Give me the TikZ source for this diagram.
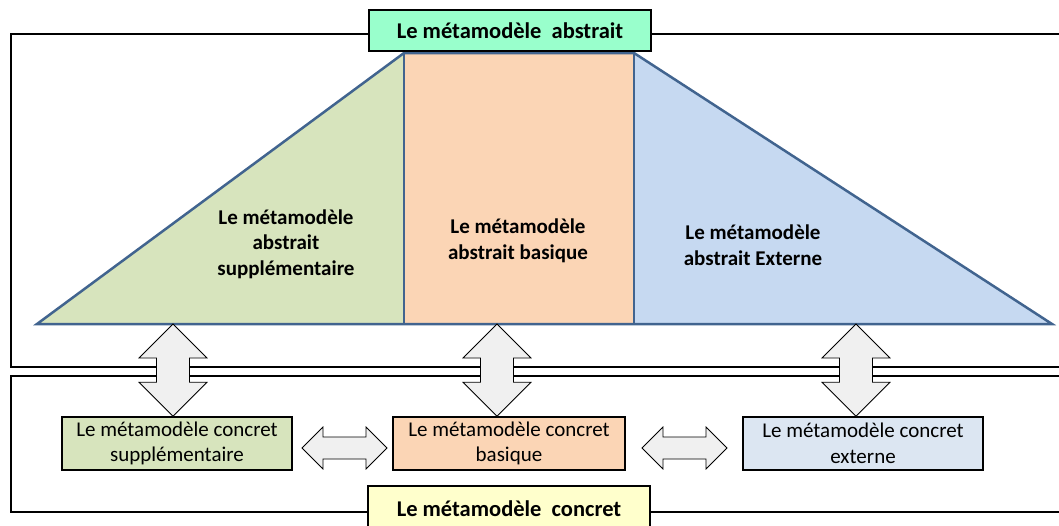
\documentclass[tikz,border=0pt]{standalone}
\usepackage{fontspec}
\setmainfont{Carlito}
\usetikzlibrary{calc}
\definecolor{gfill}{HTML}{D7E4BD}
\definecolor{ofill}{HTML}{FBD5B5}
\definecolor{bfill}{HTML}{C6D9F1}
\definecolor{bfilll}{HTML}{DCE6F2}
\definecolor{tline}{HTML}{41648F}
\definecolor{mint}{HTML}{99FFCC}
\definecolor{ylw}{HTML}{FFFFCC}
\definecolor{arrfill}{HTML}{F0F0F0}
\newcommand\vdarr[2]{%
  \draw[arr] let \p1=(#1), \p2=(#2) in
   (\x1,\y1) -- (\x1+34pt,\y1-34pt) -- (\x1+16.5pt,\y1-34pt) -- (\x1+16.5pt,\y2+34pt)
   -- (\x1+34pt,\y2+34pt) -- (\x1,\y2) -- (\x1-34pt,\y2+34pt) -- (\x1-16.5pt,\y2+34pt)
   -- (\x1-16.5pt,\y1-34pt) -- (\x1-34pt,\y1-34pt) -- cycle;}
\newcommand\hdarr[2]{%
  \draw[arr] let \p1=(#1), \p2=(#2) in
   (\x1,\y1) -- (\x1+21pt,\y1+21pt) -- (\x1+21pt,\y1+11pt) -- (\x2-21pt,\y1+11pt)
   -- (\x2-21pt,\y1+21pt) -- (\x2,\y1) -- (\x2-21pt,\y1-21pt) -- (\x2-21pt,\y1-11pt)
   -- (\x1+21pt,\y1-11pt) -- (\x1+21pt,\y1-21pt) -- cycle;}
\begin{document}
\begin{tikzpicture}[x=1pt,y=-1pt,
  frame/.style={draw=black,line width=1.5pt},
  arr/.style={draw=black,fill=arrfill,line width=0.8pt,line join=miter},
  lab/.style={draw=black,line width=1.5pt,minimum width=282pt,minimum height=41pt,
     font=\fontsize{22.5}{26}\selectfont\bfseries,inner sep=0pt},
  inner/.style={align=center,font=\fontsize{21}{25.5}\selectfont\bfseries},
  conc/.style={draw=black,line width=1.5pt,minimum height=53pt,align=center,
     font=\fontsize{21}{25.5}\selectfont,inner sep=0pt}]
\useasboundingbox (0,0) rectangle (1059,525);
\clip (0,0) rectangle (1059,525);
\fill[white] (0,0) rectangle (1059,525);
% frames
\draw[frame] (11,34) rectangle (1080,367);
\draw[frame] (11,376) rectangle (1080,512);
% trapezoid
\fill[gfill] (37,324) -- (404,53) -- (404,324) -- cycle;
\fill[ofill] (404,53) rectangle (634,324);
\fill[bfill] (634,53) -- (1052,324) -- (634,324) -- cycle;
\draw[tline,line width=2.5pt,line join=miter] (37,324) -- (404,53) -- (634,53) -- (1052,324) -- cycle;
\draw[tline,line width=2.5pt] (404,53) -- (404,324) (634,53) -- (634,324);
\node[inner] (ta) at (286,244) {Le métamodèle\\abstrait\\supplémentaire};
\node[inner] (tb) at (518,241) {Le métamodèle\\abstrait basique};
\node[inner] (tc) at (753,245) {Le métamodèle\\abstrait Externe};
% labels
\node[lab,fill=mint] (abs) at (510,30.5) {Le métamodèle\hspace{0.45em}abstrait};
\node[lab,fill=ylw,minimum width=282pt,minimum height=44pt] (con) at (509,508) {};
\node[font=\fontsize{22.5}{26}\selectfont\bfseries] (conT) at (509,509) {Le métamodèle\hspace{0.45em}concret};
% concrete boxes
\node[conc,fill=gfill,minimum width=230pt] (cg) at (177,443.5) {Le métamodèle concret\\supplémentaire};
\node[conc,fill=ofill,minimum width=232pt] (co) at (509,443.5) {Le métamodèle concret\\basique};
\node[conc,fill=bfilll,minimum width=240pt] (cb) at (863,443.5) {Le métamodèle concret\\externe};
% vertical arrows
\coordinate (t1) at (173,324);
\coordinate (t2) at (497,324);
\coordinate (t3) at (856,324);
\vdarr{t1}{t1 |- cg.north}
\vdarr{t2}{t2 |- co.north}
\vdarr{t3}{t3 |- cb.north}
% horizontal arrows
\coordinate (h1a) at (302,448);
\coordinate (h1b) at (387,448);
\coordinate (h2a) at (642,448);
\coordinate (h2b) at (727,448);
\hdarr{h1a}{h1b}
\hdarr{h2a}{h2b}
\end{tikzpicture}
\end{document}
